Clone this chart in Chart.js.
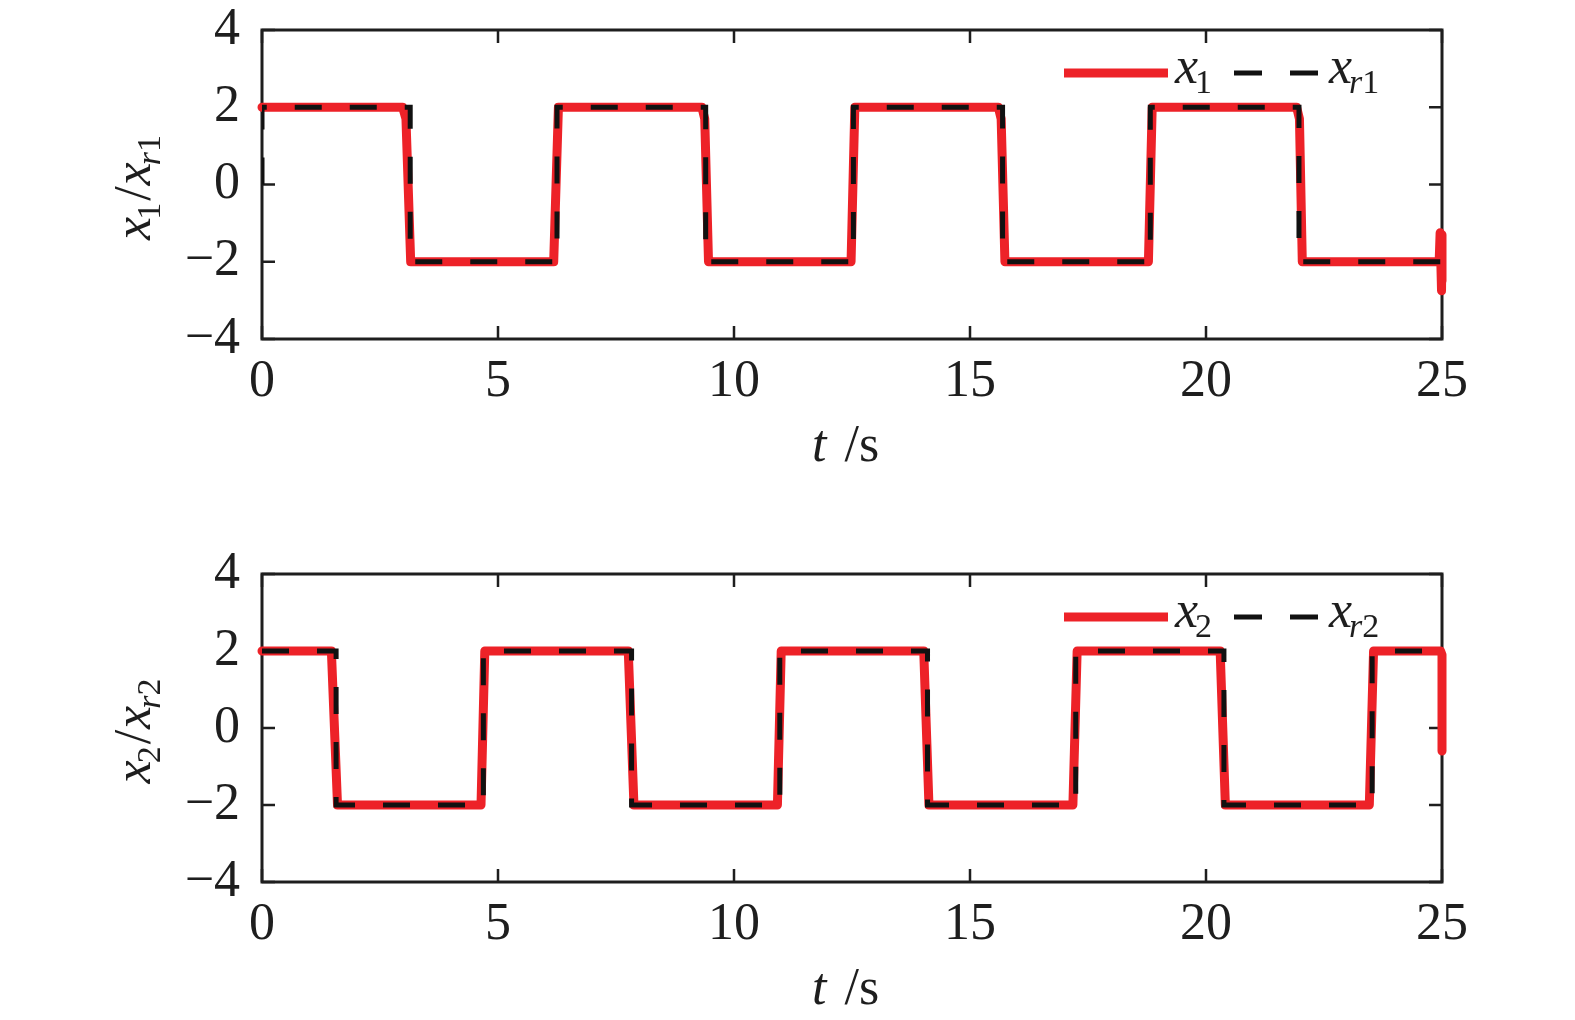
<!DOCTYPE html>
<html>
<head>
<meta charset="utf-8">
<script src="https://cdn.jsdelivr.net/npm/chart.js@4.4.1/dist/chart.umd.min.js"></script>
<style>
    body { margin: 0; background: #fff; width: 1575px; height: 1020px; overflow: hidden; position: relative; }
    .box { position: absolute; left: 0; width: 1575px; }
    #box1 { top: 0; height: 510px; }
    #box2 { top: 544px; height: 476px; }
</style>
</head>
<body>
<div class="box" id="box1"><canvas id="chart1" width="1575" height="510"></canvas></div>
<div class="box" id="box2"><canvas id="chart2" width="1575" height="476"></canvas></div>
<script>
// values
let xTicks = [0, 5, 10, 15, 20, 25];
let yTicks = [-4, -2, 0, 2, 4];

let x1Time = [0, 2.98, 3.05, 3.15, 6.18, 6.28, 9.32, 9.38, 9.46, 12.48, 12.56, 15.6, 15.66, 15.74, 18.78, 18.86, 21.92, 21.98, 22.04, 24.94, 24.96, 24.99, 25.0, 25.0];
let x1Value = [2, 2, 1.7, -2, -2, 2, 2, 1.7, -2, -2, 2, 2, 1.7, -2, -2, 2, 2, 1.7, -2, -2, -1.25, -2.75, -1.3, -2.5];
let xr1Time = [0, 0, 3.14, 3.14, 6.25, 6.25, 9.4, 9.4, 12.53, 12.53, 15.69, 15.69, 18.82, 18.82, 21.97, 21.97, 25];
let xr1Value = [0, 2, 2, -2, -2, 2, 2, -2, -2, 2, 2, -2, -2, 2, 2, -2, -2];

let x2Time = [0, 1.47, 1.6, 4.64, 4.72, 7.76, 7.88, 10.92, 11.0, 14.02, 14.13, 17.18, 17.27, 20.3, 20.41, 23.46, 23.55, 24.97, 25.0, 25.0];
let x2Value = [2, 2, -2, -2, 2, 2, -2, -2, 2, 2, -2, -2, 2, 2, -2, -2, 2, 2, 1.9, -0.6];
let xr2Time = [0, 1.57, 1.57, 4.69, 4.69, 7.83, 7.83, 10.97, 10.97, 14.1, 14.1, 17.24, 17.24, 20.38, 20.38, 23.52, 23.52, 25];
let xr2Value = [2, 2, -2, -2, 2, 2, -2, -2, 2, 2, -2, -2, 2, 2, -2, -2, 2, 2];

let redColor = '#ed2228';
let blackColor = '#111111';
let textColor = '#1e1e1e';
let serif = '"Liberation Serif", "DejaVu Serif", serif';

function toPoints(times, values) {
    let points = [];
    for (let i = 0; i < times.length; i++) {
        points.push({ x: times[i], y: values[i] });
    }
    return points;
}

// draws a small formula: parts with italic / subscript flags, returns width
function drawMath(ctx, parts, x, y, dry) {
    let start = x;
    for (let i = 0; i < parts.length; i++) {
        let p = parts[i];
        let size = p.sub ? 34 : 52;
        ctx.font = (p.it ? 'italic ' : '') + size + 'px ' + serif;
        if (!dry) {
            ctx.fillText(p.t, x, y + (p.sub ? 10 : 0));
        }
        x += ctx.measureText(p.t).width + (p.gap || 0);
    }
    return x - start;
}

const framePlugin = {
    id: 'frame',
    beforeDatasetsDraw(chart) {
        let ctx = chart.ctx;
        let area = chart.chartArea;
        let xs = chart.scales.x;
        let ys = chart.scales.y;
        ctx.save();
        ctx.strokeStyle = textColor;
        ctx.lineWidth = 2.5;
        ctx.beginPath();
        for (let i = 0; i < xTicks.length; i++) {
            let px = xs.getPixelForValue(xTicks[i]);
            ctx.moveTo(px, area.bottom);
            ctx.lineTo(px, area.bottom - 13);
            ctx.moveTo(px, area.top);
            ctx.lineTo(px, area.top + 13);
        }
        for (let i = 0; i < yTicks.length; i++) {
            let py = ys.getPixelForValue(yTicks[i]);
            ctx.moveTo(area.left, py);
            ctx.lineTo(area.left + 13, py);
            ctx.moveTo(area.right, py);
            ctx.lineTo(area.right - 13, py);
        }
        ctx.stroke();
        ctx.lineWidth = 3;
        ctx.strokeRect(area.left, area.top, area.right - area.left, area.bottom - area.top);
        ctx.restore();
    },
    afterDraw(chart, args, opts) {
        let ctx = chart.ctx;
        let area = chart.chartArea;
        ctx.save();
        ctx.fillStyle = textColor;
        ctx.textBaseline = 'alphabetic';
        ctx.textAlign = 'left';

        // legend
        let ly = area.top + 43;
        ctx.lineCap = 'butt';
        ctx.strokeStyle = redColor;
        ctx.lineWidth = 9;
        ctx.beginPath();
        ctx.moveTo(area.right - 378, ly);
        ctx.lineTo(area.right - 274, ly);
        ctx.stroke();
        drawMath(ctx, opts.name1, area.right - 267, ly + 10);
        ctx.strokeStyle = blackColor;
        ctx.lineWidth = 5;
        ctx.setLineDash([28, 28]);
        ctx.beginPath();
        ctx.moveTo(area.right - 208, ly);
        ctx.lineTo(area.right - 124, ly);
        ctx.stroke();
        ctx.setLineDash([]);
        drawMath(ctx, opts.name2, area.right - 113, ly + 10);

        // x axis title
        let ty = area.bottom + 122;
        drawMath(ctx, [{ t: 't', it: true, gap: 18 }, { t: '/s' }], 812, ty);

        // y axis title
        let yParts = [
            { t: 'x', it: true, gap: -3 }, { t: opts.idx, sub: true, gap: 2 },
            { t: '/', gap: 1 },
            { t: 'x', it: true, gap: -3 }, { t: 'r', it: true, sub: true }, { t: opts.idx, sub: true }
        ];
        let w = drawMath(ctx, yParts, 0, 0, true);
        ctx.translate(150, (area.top + area.bottom) / 2 + 3);
        ctx.rotate(-Math.PI / 2);
        drawMath(ctx, yParts, -w / 2, 0);
        ctx.restore();
    }
};

function makeChart(canvasId, redPoints, blackPoints, axisHeight, idx) {
    new Chart(document.getElementById(canvasId), {
        type: 'line',
        data: {
            datasets: [{
                data: blackPoints,
                borderColor: blackColor,
                borderWidth: 5,
                borderDash: [27, 28],
                borderCapStyle: 'butt',
                pointRadius: 0,
                tension: 0,
                order: 0
            }, {
                data: redPoints,
                borderColor: redColor,
                borderWidth: 9,
                borderCapStyle: 'round',
                borderJoinStyle: 'round',
                pointRadius: 0,
                tension: 0,
                clip: 8,
                order: 1
            }]
        },
        options: {
            responsive: false,
            animation: false,
            layout: { padding: { top: 30, right: 133, left: 0, bottom: 0 } },
            plugins: {
                legend: { display: false },
                tooltip: { enabled: false },
                frame: {
                    idx: idx,
                    name1: [{ t: 'x', it: true, gap: -3 }, { t: idx, sub: true }],
                    name2: [{ t: 'x', it: true, gap: -3 }, { t: 'r', it: true, sub: true }, { t: idx, sub: true }]
                }
            },
            scales: {
                x: {
                    type: 'linear',
                    min: 0,
                    max: 25,
                    grid: { display: false, drawTicks: false },
                    border: { display: false },
                    ticks: {
                        stepSize: 5,
                        padding: 12,
                        maxRotation: 0,
                        color: textColor,
                        font: { family: serif, size: 52 }
                    },
                    afterFit(scale) {
                        scale.height = axisHeight;
                        scale.paddingLeft = 0;
                        scale.paddingRight = 0;
                    }
                },
                y: {
                    min: -4,
                    max: 4,
                    grid: { display: false, drawTicks: false },
                    border: { display: false },
                    ticks: {
                        stepSize: 2,
                        padding: 22,
                        color: textColor,
                        font: { family: serif, size: 52 },
                        callback: function (v) { return v < 0 ? '\u2212' + Math.abs(v) : '' + v; }
                    },
                    afterFit(scale) {
                        scale.width = 262;
                        scale.paddingTop = 0;
                        scale.paddingBottom = 0;
                    }
                }
            }
        },
        plugins: [framePlugin]
    });
}

makeChart('chart1', toPoints(x1Time, x1Value), toPoints(xr1Time, xr1Value), 171, '1');
makeChart('chart2', toPoints(x2Time, x2Value), toPoints(xr2Time, xr2Value), 138, '2');
</script>
</body>
</html>
